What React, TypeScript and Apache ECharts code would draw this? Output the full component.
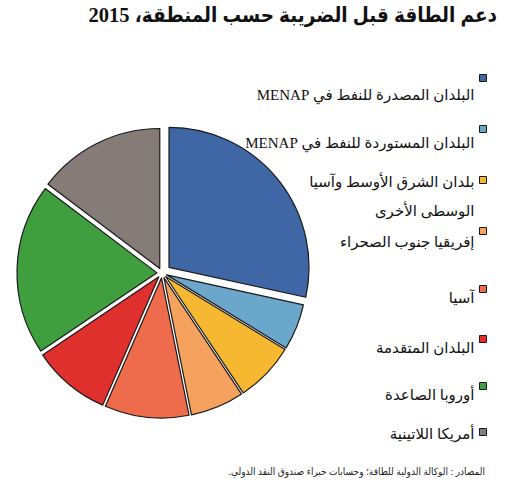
import React, { useEffect, useRef } from 'react';
import * as echarts from 'echarts';

const RLE = '\u202B';
const PDF = '\u202C';
const rtl = (s: string) => RLE + s + PDF;

const titleText = 'دعم الطاقة قبل الضريبة حسب المنطقة، 2015';
const sourceText = rtl('المصادر : الوكالة الدولية للطاقة؛ وحسابات خبراء صندوق النقد الدولي.');

const categories = [
  rtl('البلدان المصدرة للنفط في MENAP'),
  rtl('البلدان المستوردة للنفط في MENAP'),
  'بلدان الشرق الأوسط وآسيا\nالوسطى الأخرى',
  'إفريقيا جنوب الصحراء',
  'آسيا',
  'البلدان المتقدمة',
  'أوروبا الصاعدة',
  'أمريكا اللاتينية',
];
const shares = [28.4, 5.3, 6.9, 6.2, 9.7, 9.0, 19.7, 14.7];
const colors = ['#3F67A6', '#6AA7CB', '#F6B830', '#F4A25E', '#EE6B4B', '#E0302D', '#3F9E3E', '#857B77'];

// legend layout (icon centre y, text offset below icon)
const legendIconY = [78, 129, 180, 231, 289, 339, 386, 432];
const legendTextOffset = [17, 14, 2, 11, 9, 9, 9, 2];

const FONT = "'Liberation Serif', 'DejaVu Sans', serif";
const FONT_C = "'Liberation Serif', 'DejaVu Sans Condensed', 'DejaVu Sans', serif";

export default function App() {
  const ref = useRef<HTMLDivElement>(null);
  useEffect(() => {
    if (!ref.current) return;
    const chart = echarts.init(ref.current, null, { renderer: 'svg' });
    const hidden = { color: 'rgba(0,0,0,0)', borderWidth: 0 };
    const makeData = (visible: (i: number) => boolean) =>
      categories.map((name, i) => ({
        name,
        value: shares[i],
        selected: true,
        itemStyle: visible(i)
          ? { color: colors[i], borderColor: '#1a1a1a', borderWidth: 1.2 }
          : hidden,
      }));
    const pieBase = {
      type: 'pie',
      center: [162, 273],
      radius: [0, 140],
      startAngle: 90,
      clockwise: true,
      selectedMode: 'multiple',
      silent: true,
      label: { show: false },
      labelLine: { show: false },
      emphasis: { disabled: true },
      avoidLabelOverlap: false,
    };
    const LH = 18;
    const L2 = 40;
    const legends = categories.map((name, i) => {
      const lines = name.split('\n');
      const o = legendTextOffset[i];
      let formatter: string;
      let rich: any;
      let T: number;
      if (lines.length > 1) {
        const P1 = 2 * o + L2;
        formatter = `{a|${lines[0]}}\n{b|${lines[1]}}`;
        rich = {
          a: { height: LH, lineHeight: LH + P1, padding: [P1, 0, 0, 0] },
          b: { height: L2, lineHeight: L2 },
        };
        T = LH + P1 + L2;
      } else {
        const P = 2 * o;
        formatter = `{a|${name}}`;
        rich = { a: { height: LH, lineHeight: LH + P, padding: [P, 0, 0, 0] } };
        T = LH + P;
      }
      return {
        orient: 'vertical',
        right: 21,
        top: legendIconY[i] - T / 2,
        padding: 0,
        align: 'right',
        icon: 'rect',
        itemWidth: 7,
        itemHeight: 7,
        selectedMode: false,
        formatter,
        itemStyle: { borderColor: '#1a1a1a', borderWidth: 1 },
        textStyle: {
          fontFamily: FONT,
          fontSize: 15,
          color: '#111',
          rich: Object.fromEntries(
            Object.entries(rich).map(([k, v]: any) => [k, { ...v, fontFamily: FONT, fontSize: 15, color: '#111' }])
          ),
        },
        data: [{ name, itemStyle: { color: colors[i], borderColor: '#1a1a1a', borderWidth: 1 } }],
      };
    });
    chart.setOption({
      animation: false,
      backgroundColor: '#fff',
      title: [
        {
          text: titleText,
          right: 11,
          top: 4,
          padding: 0,
          textStyle: { fontFamily: FONT_C, fontSize: 20.5, fontWeight: 'bold', color: '#111' },
        },
        {
          text: sourceText,
          right: 23,
          top: 466,
          padding: 0,
          textStyle: { fontFamily: FONT_C, fontSize: 10, fontWeight: 'normal', color: '#222' },
        },
      ],
      legend: legends,
      series: [
        { ...pieBase, name: 'a', selectedOffset: 9, data: makeData((i) => i === 0) },
        { ...pieBase, name: 'b', selectedOffset: 5, data: makeData((i) => i !== 0) },
      ],
    });
    return () => chart.dispose();
  }, []);
  return (
    <div
      ref={ref}
      style={{ position: 'fixed', left: 0, top: 0, width: 508, height: 500 }}
    />
  );
}
